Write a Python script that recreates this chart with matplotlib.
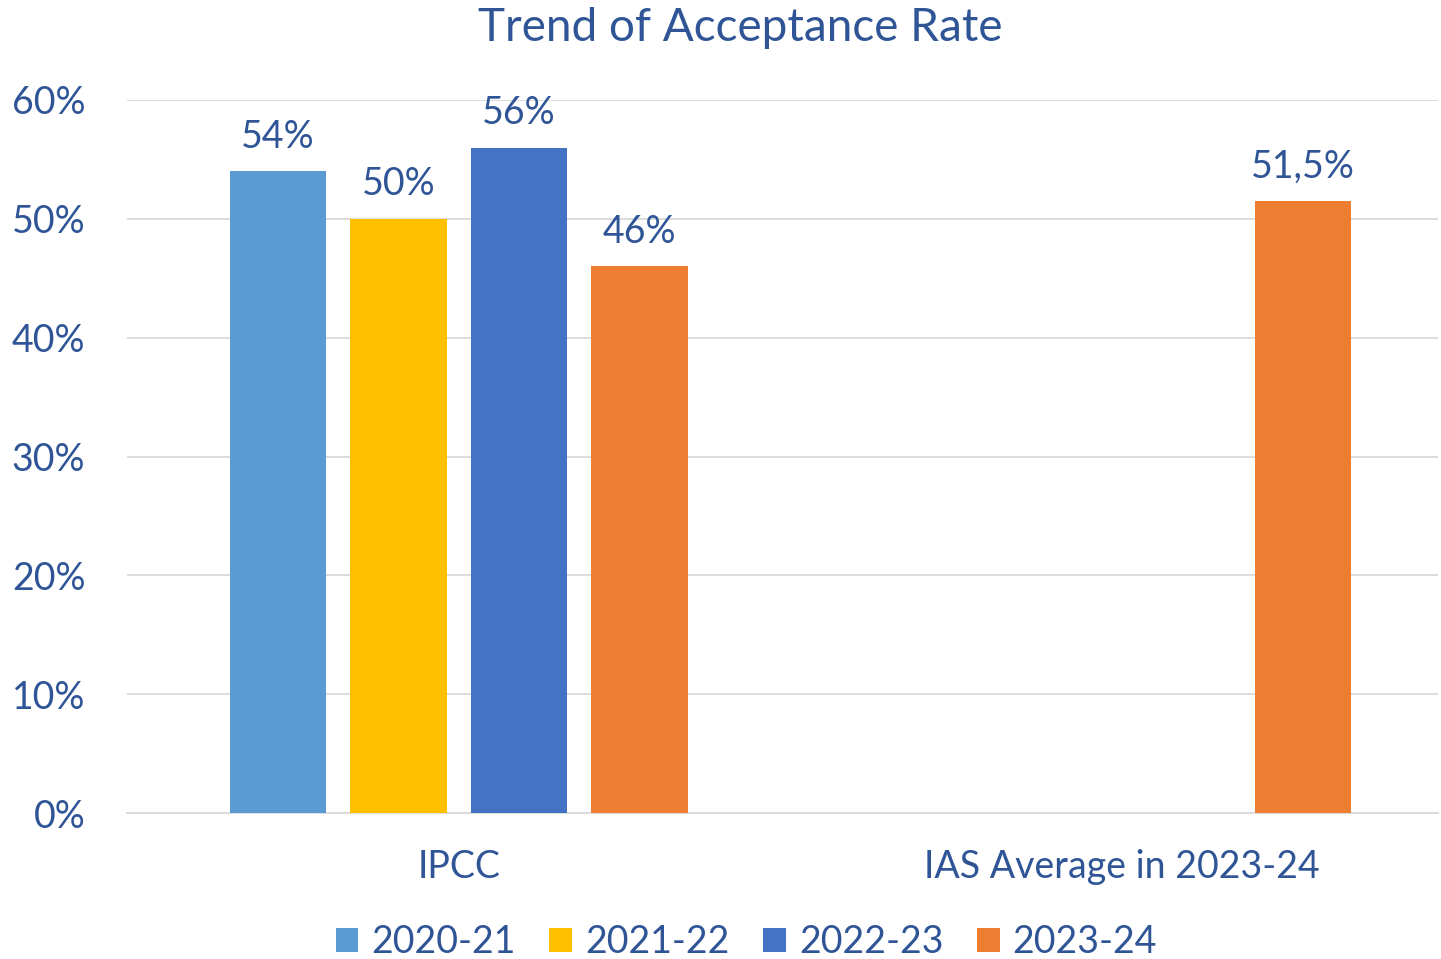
import matplotlib as mpl
mpl.use('Agg')
import matplotlib.pyplot as plt
import numpy as np

# data
categories = ['IPCC', 'IAS Average in 2023-24']
series_names = ['2020-21', '2021-22', '2022-23', '2023-24']
series_values = [
    [54, np.nan],
    [50, np.nan],
    [56, np.nan],
    [46, 51.5],
]
series_labels = [
    ['54%', ''],
    ['50%', ''],
    ['56%', ''],
    ['46%', '51,5%'],
]
colors = ['#5B9BD5', '#FFC000', '#4472C4', '#ED7D31']
y_ticks = [0, 10, 20, 30, 40, 50, 60]

text_color = '#2F5597'
plt.rcParams['font.family'] = ['Lato', 'DejaVu Sans']

fig = plt.figure(figsize=(14.41, 9.59), dpi=100)
ax = fig.add_axes([127 / 1441, 146 / 959, 1311 / 1441, 713 / 959])

x = np.arange(len(categories))
width = 0.145
step = 0.1816
for i, (name, vals) in enumerate(zip(series_names, series_values)):
    offs = (i - 1.5) * step
    bars = ax.bar(x + offs, vals, width, color=colors[i], label=name, zorder=3)
    for b, v, lab in zip(bars, vals, series_labels[i]):
        if lab:
            ax.annotate(lab, (b.get_x() + b.get_width() / 2, v), xytext=(0, 25),
                        textcoords='offset points', ha='center', va='center',
                        fontsize=27, color=text_color)

ax.set_xlim(-0.5, -0.5 + 1311 / 663.5)
ax.set_ylim(0, 60)
ax.set_yticks(y_ticks)
ax.set_yticklabels([f'{t}%' for t in y_ticks], fontsize=27, color=text_color)
ax.set_xticks(x)
ax.set_xticklabels(categories, fontsize=27, color=text_color)
ax.tick_params(axis='both', length=0)
ax.tick_params(axis='x', pad=26)
ax.tick_params(axis='y', pad=30)
ax.grid(axis='y', color='#D9D9D9', linewidth=1.3, zorder=0)
for s in ['top', 'right', 'left']:
    ax.spines[s].set_visible(False)
ax.spines['bottom'].set_color('#D9D9D9')
ax.spines['bottom'].set_linewidth(1.3)

fig.text(0.514, 1 - 28 / 959, 'Trend of Acceptance Rate', ha='center', va='center',
         fontsize=33, color=text_color)

fig.legend(loc='center', bbox_to_anchor=(0.518, 1 - 942 / 959), ncol=4, frameon=False,
           fontsize=27, labelcolor=text_color, handlelength=0.6, handleheight=0.6,
           handletextpad=0.35, columnspacing=0.9)

fig.savefig('out.png', dpi=100)
